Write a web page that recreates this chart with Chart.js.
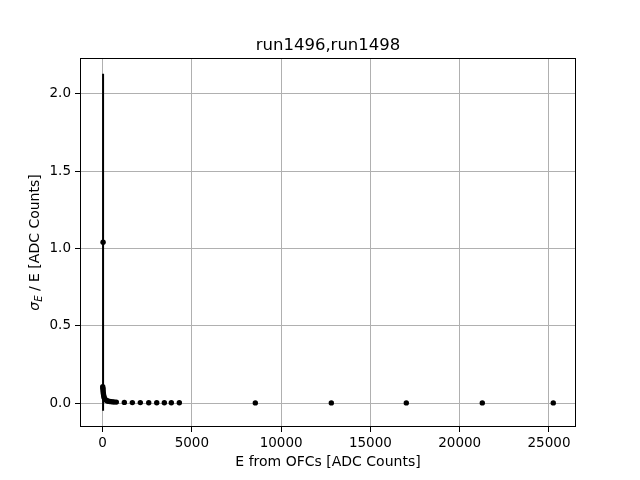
<!DOCTYPE html>
<html>
<head>
<meta charset="utf-8">
<script src="https://cdn.jsdelivr.net/npm/chart.js@4.4.0/dist/chart.umd.min.js"></script>
<style>
  html, body { margin: 0; padding: 0; background: #fff; }
  #wrap { width: 640px; height: 480px; }
</style>
</head>
<body>
<div id="wrap"><canvas id="chart" width="640" height="480"></canvas></div>
<script>
// Energy from OFCs [ADC counts] and relative resolution sigma_E / E
const energies = [30, 12, 20, 28, 38, 50, 65, 85, 110, 145, 190, 250, 320, 410, 520, 640,
                  773, 1221, 1669, 2116, 2587, 3035, 3460, 3852, 4300,
                  8555, 12811, 17010, 21265, 25240];
const resolution = [1.04, 0.105, 0.095, 0.085, 0.072, 0.06, 0.048, 0.038, 0.03, 0.024, 0.019, 0.015, 0.012, 0.01, 0.008, 0.007,
                    0.006, 0.004, 0.003, 0.003, 0.002, 0.002, 0.002, 0.002, 0.002,
                    0.001, 0.001, 0.001, 0.001, 0.001];
const resolutionErr = [1.09, 0.012, 0.01, 0.009, 0.008, 0.007, 0.006, 0.005, 0.004, 0.003, 0.003, 0.002, 0.002, 0.002, 0.001, 0.001,
                       0.001, 0.001, 0.001, 0.001, 0.001, 0.001, 0.001, 0.001, 0.001,
                       0.0005, 0.0005, 0.0005, 0.0005, 0.0005];
const xTicks = [0, 5000, 10000, 15000, 20000, 25000];
const yTicks = [0.0, 0.5, 1.0, 1.5, 2.0];

const FONT = "'DejaVu Sans', sans-serif";
const TITLE = "run1496,run1498";

// vertical error bars, drawn through the chart scales
const errorBars = {
    id: "errorBars",
    beforeDatasetsDraw(chart) {
        const { ctx, scales: { x, y } } = chart;
        ctx.save();
        ctx.strokeStyle = "#000";
        ctx.lineWidth = 2;
        energies.forEach((e, i) => {
            const px = x.getPixelForValue(e);
            ctx.beginPath();
            ctx.moveTo(px, y.getPixelForValue(resolution[i] - resolutionErr[i]));
            ctx.lineTo(px, y.getPixelForValue(resolution[i] + resolutionErr[i]));
            ctx.stroke();
        });
        ctx.restore();
    },
};

// axes frame, title over the plot area and y label with subscript
const frame = {
    id: "frame",
    afterDraw(chart) {
        const { ctx, chartArea: a } = chart;
        ctx.save();
        ctx.strokeStyle = "#000";
        ctx.lineWidth = 1;
        ctx.strokeRect(a.left + 0.5, a.top + 0.5, a.right - a.left - 1, a.bottom - a.top - 1);

        ctx.fillStyle = "#000";
        ctx.font = "16.5px " + FONT;
        ctx.textAlign = "center";
        ctx.textBaseline = "alphabetic";
        ctx.fillText(TITLE, (a.left + a.right) / 2, a.top - 8.5);

        // y label: sigma_E / E [ADC Counts]
        ctx.textAlign = "left";
        ctx.textBaseline = "middle";
        const cy = (a.top + a.bottom) / 2;
        ctx.translate(35, cy);
        ctx.rotate(-Math.PI / 2);
        const main = "14px " + FONT;
        const ital = "italic 14px " + FONT;
        const sub = "italic 10px " + FONT;
        const rest = " / E [ADC Counts]";
        ctx.font = ital; const wS = ctx.measureText("σ").width;
        ctx.font = sub; const wE = ctx.measureText("E").width;
        ctx.font = main; const wR = ctx.measureText(rest).width;
        let xx = -(wS + wE + wR) / 2;
        ctx.font = ital; ctx.fillText("σ", xx, 0); xx += wS;
        ctx.font = sub; ctx.fillText("E", xx, 4); xx += wE;
        ctx.font = main; ctx.fillText(rest, xx, 0);
        ctx.restore();
    },
};

new Chart(document.getElementById("chart").getContext("2d"), {
    type: "scatter",
    data: {
        datasets: [{
            label: TITLE,
            data: energies.map((e, i) => ({ x: e, y: resolution[i] })),
            backgroundColor: "#000",
            borderColor: "#000",
            pointRadius: 2.7,
            pointBorderWidth: 0,
        }],
    },
    options: {
        responsive: false,
        animation: false,
        layout: { padding: { left: 0, right: 64, top: 58, bottom: 0 } },
        plugins: {
            legend: { display: false },
            tooltip: { enabled: false },
            title: { display: false },
        },
        scales: {
            x: {
                type: "linear",
                min: -1262,
                max: 26512,
                afterBuildTicks: (s) => { s.ticks = xTicks.map(v => ({ value: v })); },
                afterFit: (s) => { s.height = 53; },
                grid: { color: "#b0b0b0", lineWidth: 1, tickColor: "#000", tickLength: 5 },
                border: { display: false },
                ticks: {
                    color: "#000",
                    font: { family: FONT, size: 13.5 },
                    padding: 3,
                    maxRotation: 0,
                    callback: (v) => String(v),
                },
                title: {
                    display: true,
                    text: "E from OFCs [ADC Counts]",
                    color: "#000",
                    font: { family: FONT, size: 14 },
                    padding: { top: 0, bottom: 9 },
                },
            },
            y: {
                type: "linear",
                min: -0.155,
                max: 2.232,
                afterBuildTicks: (s) => { s.ticks = yTicks.map(v => ({ value: v })); },
                afterFit: (s) => { s.width = 80; },
                grid: { color: "#b0b0b0", lineWidth: 1, tickColor: "#000", tickLength: 5 },
                border: { display: false },
                ticks: {
                    color: "#000",
                    font: { family: FONT, size: 13.5 },
                    padding: 4,
                    callback: (v) => v.toFixed(1),
                },
            },
        },
    },
    plugins: [errorBars, frame],
});
</script>
</body>
</html>
